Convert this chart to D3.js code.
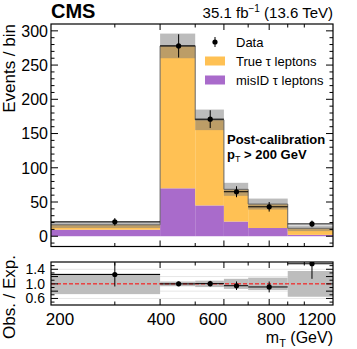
<!doctype html>
<html lang="en">
<head>
<meta charset="UTF-8">
<title>mT post-calibration</title>
<style>
    body { margin: 0; background: #fff; }
    text { font-family: "Liberation Sans", Arial, sans-serif; fill: #000; }
</style>
</head>
<body>
<svg width="357" height="349"></svg>
<script src="https://cdn.jsdelivr.net/npm/d3@7"></script>
<script>
// values
const binEdges = [200, 400, 500, 600, 700, 900, 1200];
const misIdTau = [9.5, 70, 45, 21.5, 12, 2];
const trueTau = [7.2, 208, 125, 47, 35, 9.6];
const bkgUnc = [4.7, 18, 15, 9.5, 8, 4.1];
const dataX = [300, 450, 550, 650, 800, 1050];
const dataY = [21, 278, 171, 65, 43, 18];
const dataErr = [5.5, 17, 13, 8, 7, 4.8];
const xTickLabels = [200, 400, 600, 800, 1200];
const xLabelShift = [9, 1, -11, 2, -16];
const xMinorTicks = [300, 500, 700, 900, 1000];
const yMajorTicks = [0, 50, 100, 150, 200, 250, 300];
const ratioTicks = [0.6, 1.0, 1.4];

const svg = d3.select('svg');
const left = 51, right = 333;
const main = {top: 24, bottom: 246.5};
const rat = {top: 262, bottom: 305};

const x = d3.scaleLog().domain([200, 1200]).range([left, right]);
const y = d3.scaleLinear().domain([-15, 310]).range([main.bottom, main.top]);
const yr = d3.scaleLinear().domain([0.42, 1.6]).range([rat.bottom, rat.top]);

const bins = d3.range(misIdTau.length).map(i => ({
    x0: binEdges[i], x1: binEdges[i + 1],
    mis: misIdTau[i], tot: misIdTau[i] + trueTau[i], unc: bkgUnc[i],
    dx: dataX[i], dy: dataY[i], de: dataErr[i]
}));

// ---------- main panel ----------
const gm = svg.append('g');
gm.append('clipPath').attr('id', 'clipMain').append('rect')
    .attr('x', left).attr('y', main.top).attr('width', right - left).attr('height', main.bottom - main.top);
const pm = gm.append('g').attr('clip-path', 'url(#clipMain)');

pm.selectAll('.mis').data(bins).join('rect')
    .attr('x', d => x(d.x0)).attr('width', d => x(d.x1) - x(d.x0))
    .attr('y', d => y(d.mis)).attr('height', d => y(0) - y(d.mis))
    .attr('fill', '#a96bcb');
pm.selectAll('.tru').data(bins).join('rect')
    .attr('x', d => x(d.x0)).attr('width', d => x(d.x1) - x(d.x0))
    .attr('y', d => y(d.tot)).attr('height', d => y(d.mis) - y(d.tot))
    .attr('fill', '#ffc154');
pm.selectAll('.unc').data(bins).join('rect')
    .attr('x', d => x(d.x0)).attr('width', d => x(d.x1) - x(d.x0))
    .attr('y', d => y(d.tot + d.unc)).attr('height', d => y(d.tot - d.unc) - y(d.tot + d.unc))
    .attr('fill', '#7a7a7a').attr('fill-opacity', 0.5);

// total step line
const step = [];
bins.forEach(d => { step.push([d.x0, d.tot]); step.push([d.x1, d.tot]); });
pm.append('path')
    .attr('d', d3.line().x(d => x(d[0])).y(d => y(d[1]))(step))
    .attr('fill', 'none').attr('stroke', '#666').attr('stroke-width', 1);

function drawData(g, ys, yv, ye) {
    const pts = g.selectAll(null).data(bins).join('g');
    pts.append('line')
        .attr('x1', d => x(d.x0)).attr('x2', d => x(d.x1))
        .attr('y1', d => ys(yv(d))).attr('y2', d => ys(yv(d)))
        .attr('stroke', '#000').attr('stroke-width', 1);
    pts.append('line')
        .attr('x1', d => x(d.dx)).attr('x2', d => x(d.dx))
        .attr('y1', d => ys(yv(d) - ye(d))).attr('y2', d => ys(yv(d) + ye(d)))
        .attr('stroke', '#000').attr('stroke-width', 1);
    pts.append('circle')
        .attr('cx', d => x(d.dx)).attr('cy', d => ys(yv(d)))
        .attr('r', 2.6).attr('fill', '#000');
}
drawData(pm, y, d => d.dy, d => d.de);

// ---------- ratio panel ----------
const gr = svg.append('g');
gr.append('clipPath').attr('id', 'clipRat').append('rect')
    .attr('x', left).attr('y', rat.top).attr('width', right - left).attr('height', rat.bottom - rat.top);
const pr = gr.append('g').attr('clip-path', 'url(#clipRat)');

pr.selectAll('.grid').data([0.6, 0.8, 1.2, 1.4]).join('line')
    .attr('x1', left).attr('x2', right)
    .attr('y1', d => yr(d)).attr('y2', d => yr(d))
    .attr('stroke', '#e6e6e6').attr('stroke-width', 1);
pr.selectAll('.band').data(bins).join('rect')
    .attr('x', d => x(d.x0)).attr('width', d => x(d.x1) - x(d.x0))
    .attr('y', d => yr(1 + d.unc / d.tot)).attr('height', d => yr(1 - d.unc / d.tot) - yr(1 + d.unc / d.tot))
    .attr('fill', '#bdbdbd');
pr.append('line')
    .attr('x1', left).attr('x2', right).attr('y1', yr(1)).attr('y2', yr(1))
    .attr('stroke', '#ff0000').attr('stroke-width', 1).attr('stroke-dasharray', '4,2');
drawData(pr, yr, d => d.dy / d.tot, d => d.de / d.tot);

// ---------- frames and ticks ----------
function frame(g, top, bottom, yScale, yMaj, yMin) {
    g.append('rect').attr('x', left).attr('y', top)
        .attr('width', right - left).attr('height', bottom - top)
        .attr('fill', 'none').attr('stroke', '#000').attr('stroke-width', 1.2);
    const t = g.append('g').attr('stroke', '#000').attr('stroke-width', 1);
    const xt = xTickLabels.filter(v => v > 200 && v < 1200).map(v => [v, 6])
        .concat(xMinorTicks.map(v => [v, 3.5]));
    xt.forEach(([v, L]) => {
        t.append('line').attr('x1', x(v)).attr('x2', x(v)).attr('y1', bottom).attr('y2', bottom - L);
        t.append('line').attr('x1', x(v)).attr('x2', x(v)).attr('y1', top).attr('y2', top + L);
    });
    yMaj.forEach(v => {
        t.append('line').attr('x1', left).attr('x2', left + 7).attr('y1', yScale(v)).attr('y2', yScale(v));
        t.append('line').attr('x1', right).attr('x2', right - 7).attr('y1', yScale(v)).attr('y2', yScale(v));
    });
    yMin.forEach(v => {
        t.append('line').attr('x1', left).attr('x2', left + 3.5).attr('y1', yScale(v)).attr('y2', yScale(v));
        t.append('line').attr('x1', right).attr('x2', right - 3.5).attr('y1', yScale(v)).attr('y2', yScale(v));
    });
}
const yMinor = d3.range(-10, 310, 10).filter(v => v % 50 !== 0);
frame(gm, main.top, main.bottom, y, yMajorTicks, yMinor);
frame(gr, rat.top, rat.bottom, yr, ratioTicks.concat([0.8, 1.2]), [0.5, 0.7, 0.9, 1.1, 1.3, 1.5]);

// y tick labels
gm.selectAll('.yl').data(yMajorTicks).join('text')
    .attr('x', left - 3).attr('y', d => y(d)).attr('dy', '0.36em')
    .attr('text-anchor', 'end').style('font-size', '16px').text(d => d);
gr.selectAll('.rl').data(ratioTicks).join('text')
    .attr('x', left - 6).attr('y', d => yr(d)).attr('dy', '0.36em')
    .attr('text-anchor', 'end').style('font-size', '14px').text(d => d.toFixed(1));

// x tick labels
gr.selectAll('.xl').data(xTickLabels).join('text')
    .attr('x', (d, i) => x(d) + xLabelShift[i]).attr('y', 325)
    .attr('text-anchor', 'middle').style('font-size', '17px').text(d => d);

// axis titles
svg.append('text')
    .attr('transform', 'translate(15,' + main.top + ') rotate(-90)')
    .attr('text-anchor', 'end').style('font-size', '17px').text('Events / bin');
svg.append('text')
    .attr('transform', 'translate(15,297) rotate(-90)')
    .attr('text-anchor', 'middle').style('font-size', '17px').text('Obs. / Exp.');
const xt = svg.append('text').attr('x', right).attr('y', 343)
    .attr('text-anchor', 'end').style('font-size', '16px');
xt.append('tspan').text('m');
xt.append('tspan').attr('dy', 4).style('font-size', '11px').text('T');
xt.append('tspan').attr('dy', -4).text(' (GeV)');

// header
svg.append('text').attr('x', left).attr('y', 18)
    .style('font-size', '20px').style('font-weight', 'bold').text('CMS');
const lumi = svg.append('text').attr('x', right).attr('y', 18)
    .attr('text-anchor', 'end').style('font-size', '15px');
lumi.append('tspan').text('35.1 fb');
lumi.append('tspan').attr('dy', -6).style('font-size', '10px').text('\u22121');
lumi.append('tspan').attr('dy', 6).text(' (13.6 TeV)');

// legend
const lg = svg.append('g');
const legRows = [
    {label: 'Data', type: 'data', y: 42},
    {label: 'True \u03c4 leptons', type: 'box', color: '#ffc154', y: 61},
    {label: 'misID \u03c4 leptons', type: 'box', color: '#a96bcb', y: 80}
];
legRows.forEach(r => {
    if (r.type === 'data') {
        lg.append('line').attr('x1', 215).attr('x2', 215).attr('y1', r.y - 5).attr('y2', r.y + 5)
            .attr('stroke', '#000');
        lg.append('circle').attr('cx', 215).attr('cy', r.y).attr('r', 2.6).attr('fill', '#000');
    } else {
        lg.append('rect').attr('x', 205).attr('y', r.y - 4.5).attr('width', 20).attr('height', 9)
            .attr('fill', r.color);
    }
    lg.append('text').attr('x', 236).attr('y', r.y).attr('dy', '0.35em')
        .style('font-size', '13px').text(r.label);
});

// annotation
const ann = svg.append('g').style('font-weight', 'bold').style('font-size', '13px');
ann.append('text').attr('x', 227).attr('y', 144).text('Post-calibration');
const pt = ann.append('text').attr('x', 227).attr('y', 159);
pt.append('tspan').text('p');
pt.append('tspan').attr('dy', 3).style('font-size', '9px').style('font-weight', 'normal').text('T');
pt.append('tspan').attr('dy', -3).text(' > 200 GeV');
</script>
</body>
</html>
